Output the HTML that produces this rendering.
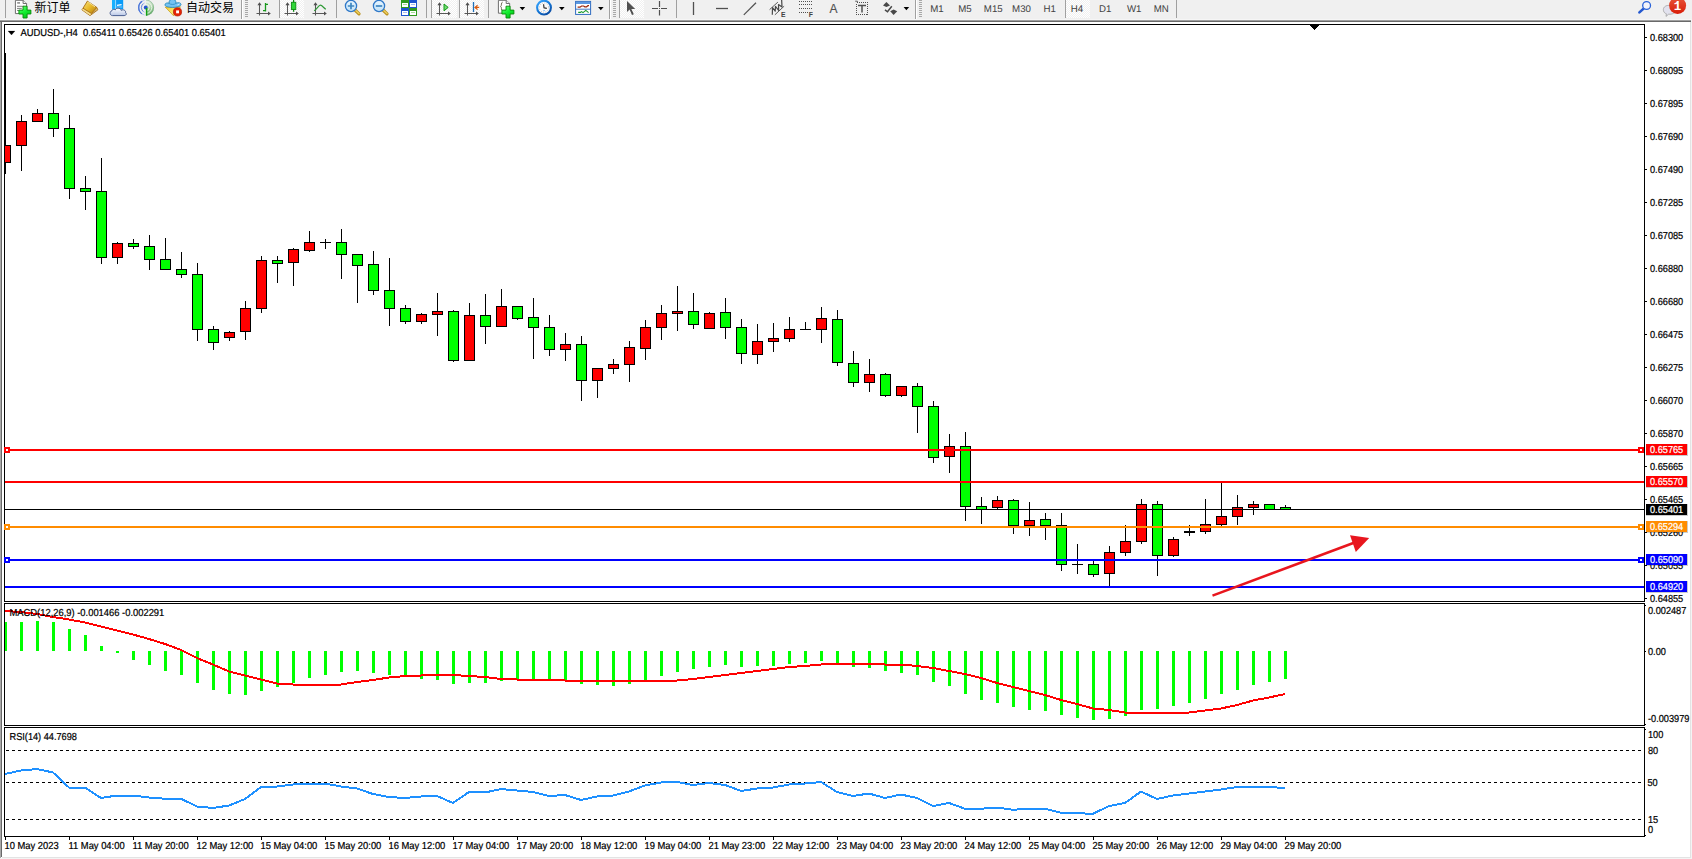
<!DOCTYPE html>
<html lang="zh-CN"><head><meta charset="utf-8"><title>AUDUSD-,H4</title>
<style>
html,body{margin:0;padding:0;background:#fff;overflow:hidden}
body{width:1692px;height:859px;position:relative}
svg{position:absolute;left:0;top:0;display:block}
</style></head><body>
<svg width="1692" height="859" viewBox="0 0 1692 859">
<g shape-rendering="crispEdges">
<rect x="0" y="0" width="1692" height="19" fill="#f0f0f0"/>
<rect x="0" y="19" width="1692" height="1" fill="#f6f6f6"/>
<rect x="0" y="20" width="1691" height="1" fill="#a0a0a0"/>
<rect x="0" y="21" width="1691" height="1" fill="#696969"/>
<rect x="0" y="22" width="1" height="836" fill="#a8a8a8"/>
<rect x="1" y="22" width="1" height="835" fill="#696969"/>
<rect x="1690" y="22" width="1" height="836" fill="#e3e3e3"/>
<rect x="1691" y="19" width="1" height="840" fill="#f4f4f4"/>
<rect x="2" y="857" width="1689" height="1" fill="#e3e3e3"/>
<rect x="0" y="858" width="1692" height="1" fill="#f4f4f4"/>
<rect x="4" y="24" width="1641" height="1" fill="#000"/>
<rect x="4" y="24" width="1" height="813" fill="#000"/>
<rect x="1644" y="24" width="1" height="813" fill="#000"/>
<rect x="4" y="601" width="1641" height="1" fill="#000"/>
<rect x="4" y="602" width="1641" height="1" fill="#fff"/>
<rect x="4" y="603" width="1641" height="1" fill="#000"/>
<rect x="4" y="725" width="1641" height="1" fill="#000"/>
<rect x="4" y="726" width="1641" height="1" fill="#fff"/>
<rect x="4" y="727" width="1641" height="1" fill="#000"/>
<rect x="4" y="836" width="1641" height="1" fill="#000"/>
<rect x="1310" y="25" width="9" height="1" fill="#000"/>
<rect x="1311" y="26" width="7" height="1" fill="#000"/>
<rect x="1312" y="27" width="5" height="1" fill="#000"/>
<rect x="1313" y="28" width="3" height="1" fill="#000"/>
<rect x="1314" y="29" width="1" height="1" fill="#000"/>
<rect x="1645" y="37" width="2" height="1" fill="#000"/>
<rect x="1645" y="70" width="2" height="1" fill="#000"/>
<rect x="1645" y="103" width="2" height="1" fill="#000"/>
<rect x="1645" y="136" width="2" height="1" fill="#000"/>
<rect x="1645" y="169" width="2" height="1" fill="#000"/>
<rect x="1645" y="202" width="2" height="1" fill="#000"/>
<rect x="1645" y="235" width="2" height="1" fill="#000"/>
<rect x="1645" y="268" width="2" height="1" fill="#000"/>
<rect x="1645" y="301" width="2" height="1" fill="#000"/>
<rect x="1645" y="334" width="2" height="1" fill="#000"/>
<rect x="1645" y="367" width="2" height="1" fill="#000"/>
<rect x="1645" y="400" width="2" height="1" fill="#000"/>
<rect x="1645" y="433" width="2" height="1" fill="#000"/>
<rect x="1645" y="466" width="2" height="1" fill="#000"/>
<rect x="1645" y="499" width="2" height="1" fill="#000"/>
<rect x="1645" y="532" width="2" height="1" fill="#000"/>
<rect x="1645" y="565" width="2" height="1" fill="#000"/>
<rect x="1645" y="598" width="2" height="1" fill="#000"/>
<rect x="1645" y="605" width="1" height="1" fill="#000"/>
<rect x="1645" y="651" width="1" height="1" fill="#000"/>
<rect x="1645" y="724" width="1" height="1" fill="#000"/>
<rect x="1645" y="729" width="1" height="1" fill="#000"/>
<rect x="1645" y="835" width="1" height="1" fill="#000"/>
<rect x="5" y="837" width="1" height="3" fill="#000"/>
<rect x="69" y="837" width="1" height="3" fill="#000"/>
<rect x="133" y="837" width="1" height="3" fill="#000"/>
<rect x="197" y="837" width="1" height="3" fill="#000"/>
<rect x="261" y="837" width="1" height="3" fill="#000"/>
<rect x="325" y="837" width="1" height="3" fill="#000"/>
<rect x="389" y="837" width="1" height="3" fill="#000"/>
<rect x="453" y="837" width="1" height="3" fill="#000"/>
<rect x="517" y="837" width="1" height="3" fill="#000"/>
<rect x="581" y="837" width="1" height="3" fill="#000"/>
<rect x="645" y="837" width="1" height="3" fill="#000"/>
<rect x="709" y="837" width="1" height="3" fill="#000"/>
<rect x="773" y="837" width="1" height="3" fill="#000"/>
<rect x="837" y="837" width="1" height="3" fill="#000"/>
<rect x="901" y="837" width="1" height="3" fill="#000"/>
<rect x="965" y="837" width="1" height="3" fill="#000"/>
<rect x="1029" y="837" width="1" height="3" fill="#000"/>
<rect x="1093" y="837" width="1" height="3" fill="#000"/>
<rect x="1157" y="837" width="1" height="3" fill="#000"/>
<rect x="1221" y="837" width="1" height="3" fill="#000"/>
<rect x="1285" y="837" width="1" height="3" fill="#000"/>
</g>
<clipPath id="cm"><rect x="5" y="25" width="1639" height="576"/></clipPath>
<g shape-rendering="crispEdges" clip-path="url(#cm)">
<rect x="5" y="53" width="1" height="121" fill="#000"/>
<rect x="0" y="145" width="11" height="18" fill="#000"/>
<rect x="1" y="146" width="9" height="16" fill="#f00"/>
<rect x="21" y="115" width="1" height="56" fill="#000"/>
<rect x="16" y="121" width="11" height="25" fill="#000"/>
<rect x="17" y="122" width="9" height="23" fill="#f00"/>
<rect x="37" y="109" width="1" height="13" fill="#000"/>
<rect x="32" y="113" width="11" height="9" fill="#000"/>
<rect x="33" y="114" width="9" height="7" fill="#f00"/>
<rect x="53" y="89" width="1" height="48" fill="#000"/>
<rect x="48" y="113" width="11" height="16" fill="#000"/>
<rect x="49" y="114" width="9" height="14" fill="#0f0"/>
<rect x="69" y="115" width="1" height="84" fill="#000"/>
<rect x="64" y="128" width="11" height="61" fill="#000"/>
<rect x="65" y="129" width="9" height="59" fill="#0f0"/>
<rect x="85" y="176" width="1" height="34" fill="#000"/>
<rect x="80" y="188" width="11" height="4" fill="#000"/>
<rect x="81" y="189" width="9" height="2" fill="#0f0"/>
<rect x="101" y="158" width="1" height="106" fill="#000"/>
<rect x="96" y="191" width="11" height="67" fill="#000"/>
<rect x="97" y="192" width="9" height="65" fill="#0f0"/>
<rect x="117" y="242" width="1" height="22" fill="#000"/>
<rect x="112" y="243" width="11" height="15" fill="#000"/>
<rect x="113" y="244" width="9" height="13" fill="#f00"/>
<rect x="133" y="239" width="1" height="10" fill="#000"/>
<rect x="128" y="243" width="11" height="4" fill="#000"/>
<rect x="129" y="244" width="9" height="2" fill="#0f0"/>
<rect x="149" y="235" width="1" height="35" fill="#000"/>
<rect x="144" y="246" width="11" height="14" fill="#000"/>
<rect x="145" y="247" width="9" height="12" fill="#0f0"/>
<rect x="165" y="238" width="1" height="32" fill="#000"/>
<rect x="160" y="259" width="11" height="11" fill="#000"/>
<rect x="161" y="260" width="9" height="9" fill="#0f0"/>
<rect x="181" y="252" width="1" height="26" fill="#000"/>
<rect x="176" y="269" width="11" height="6" fill="#000"/>
<rect x="177" y="270" width="9" height="4" fill="#0f0"/>
<rect x="197" y="263" width="1" height="78" fill="#000"/>
<rect x="192" y="274" width="11" height="56" fill="#000"/>
<rect x="193" y="275" width="9" height="54" fill="#0f0"/>
<rect x="213" y="326" width="1" height="24" fill="#000"/>
<rect x="208" y="329" width="11" height="14" fill="#000"/>
<rect x="209" y="330" width="9" height="12" fill="#0f0"/>
<rect x="229" y="331" width="1" height="10" fill="#000"/>
<rect x="224" y="332" width="11" height="6" fill="#000"/>
<rect x="225" y="333" width="9" height="4" fill="#f00"/>
<rect x="245" y="301" width="1" height="39" fill="#000"/>
<rect x="240" y="308" width="11" height="24" fill="#000"/>
<rect x="241" y="309" width="9" height="22" fill="#f00"/>
<rect x="261" y="256" width="1" height="57" fill="#000"/>
<rect x="256" y="260" width="11" height="49" fill="#000"/>
<rect x="257" y="261" width="9" height="47" fill="#f00"/>
<rect x="277" y="256" width="1" height="27" fill="#000"/>
<rect x="272" y="260" width="11" height="4" fill="#000"/>
<rect x="273" y="261" width="9" height="2" fill="#0f0"/>
<rect x="293" y="248" width="1" height="38" fill="#000"/>
<rect x="288" y="249" width="11" height="14" fill="#000"/>
<rect x="289" y="250" width="9" height="12" fill="#f00"/>
<rect x="309" y="231" width="1" height="21" fill="#000"/>
<rect x="304" y="242" width="11" height="9" fill="#000"/>
<rect x="305" y="243" width="9" height="7" fill="#f00"/>
<rect x="325" y="239" width="1" height="10" fill="#000"/>
<rect x="320" y="242" width="11" height="1" fill="#000"/>
<rect x="341" y="229" width="1" height="50" fill="#000"/>
<rect x="336" y="242" width="11" height="13" fill="#000"/>
<rect x="337" y="243" width="9" height="11" fill="#0f0"/>
<rect x="357" y="254" width="1" height="49" fill="#000"/>
<rect x="352" y="254" width="11" height="12" fill="#000"/>
<rect x="353" y="255" width="9" height="10" fill="#0f0"/>
<rect x="373" y="251" width="1" height="44" fill="#000"/>
<rect x="368" y="264" width="11" height="27" fill="#000"/>
<rect x="369" y="265" width="9" height="25" fill="#0f0"/>
<rect x="389" y="258" width="1" height="68" fill="#000"/>
<rect x="384" y="290" width="11" height="19" fill="#000"/>
<rect x="385" y="291" width="9" height="17" fill="#0f0"/>
<rect x="405" y="305" width="1" height="19" fill="#000"/>
<rect x="400" y="308" width="11" height="14" fill="#000"/>
<rect x="401" y="309" width="9" height="12" fill="#0f0"/>
<rect x="421" y="313" width="1" height="11" fill="#000"/>
<rect x="416" y="314" width="11" height="8" fill="#000"/>
<rect x="417" y="315" width="9" height="6" fill="#f00"/>
<rect x="437" y="293" width="1" height="43" fill="#000"/>
<rect x="432" y="311" width="11" height="4" fill="#000"/>
<rect x="433" y="312" width="9" height="2" fill="#f00"/>
<rect x="453" y="310" width="1" height="52" fill="#000"/>
<rect x="448" y="311" width="11" height="50" fill="#000"/>
<rect x="449" y="312" width="9" height="48" fill="#0f0"/>
<rect x="469" y="303" width="1" height="58" fill="#000"/>
<rect x="464" y="315" width="11" height="46" fill="#000"/>
<rect x="465" y="316" width="9" height="44" fill="#f00"/>
<rect x="485" y="294" width="1" height="50" fill="#000"/>
<rect x="480" y="315" width="11" height="12" fill="#000"/>
<rect x="481" y="316" width="9" height="10" fill="#0f0"/>
<rect x="501" y="289" width="1" height="38" fill="#000"/>
<rect x="496" y="306" width="11" height="21" fill="#000"/>
<rect x="497" y="307" width="9" height="19" fill="#f00"/>
<rect x="517" y="306" width="1" height="14" fill="#000"/>
<rect x="512" y="306" width="11" height="13" fill="#000"/>
<rect x="513" y="307" width="9" height="11" fill="#0f0"/>
<rect x="533" y="298" width="1" height="61" fill="#000"/>
<rect x="528" y="317" width="11" height="11" fill="#000"/>
<rect x="529" y="318" width="9" height="9" fill="#0f0"/>
<rect x="549" y="315" width="1" height="41" fill="#000"/>
<rect x="544" y="327" width="11" height="23" fill="#000"/>
<rect x="545" y="328" width="9" height="21" fill="#0f0"/>
<rect x="565" y="333" width="1" height="28" fill="#000"/>
<rect x="560" y="344" width="11" height="6" fill="#000"/>
<rect x="561" y="345" width="9" height="4" fill="#f00"/>
<rect x="581" y="336" width="1" height="65" fill="#000"/>
<rect x="576" y="344" width="11" height="37" fill="#000"/>
<rect x="577" y="345" width="9" height="35" fill="#0f0"/>
<rect x="597" y="368" width="1" height="30" fill="#000"/>
<rect x="592" y="368" width="11" height="13" fill="#000"/>
<rect x="593" y="369" width="9" height="11" fill="#f00"/>
<rect x="613" y="359" width="1" height="15" fill="#000"/>
<rect x="608" y="364" width="11" height="5" fill="#000"/>
<rect x="609" y="365" width="9" height="3" fill="#f00"/>
<rect x="629" y="341" width="1" height="41" fill="#000"/>
<rect x="624" y="347" width="11" height="18" fill="#000"/>
<rect x="625" y="348" width="9" height="16" fill="#f00"/>
<rect x="645" y="320" width="1" height="40" fill="#000"/>
<rect x="640" y="327" width="11" height="22" fill="#000"/>
<rect x="641" y="328" width="9" height="20" fill="#f00"/>
<rect x="661" y="305" width="1" height="35" fill="#000"/>
<rect x="656" y="313" width="11" height="15" fill="#000"/>
<rect x="657" y="314" width="9" height="13" fill="#f00"/>
<rect x="677" y="286" width="1" height="45" fill="#000"/>
<rect x="672" y="311" width="11" height="3" fill="#000"/>
<rect x="673" y="312" width="9" height="1" fill="#f00"/>
<rect x="693" y="293" width="1" height="36" fill="#000"/>
<rect x="688" y="311" width="11" height="14" fill="#000"/>
<rect x="689" y="312" width="9" height="12" fill="#0f0"/>
<rect x="709" y="312" width="1" height="17" fill="#000"/>
<rect x="704" y="313" width="11" height="16" fill="#000"/>
<rect x="705" y="314" width="9" height="14" fill="#f00"/>
<rect x="725" y="298" width="1" height="41" fill="#000"/>
<rect x="720" y="312" width="11" height="16" fill="#000"/>
<rect x="721" y="313" width="9" height="14" fill="#0f0"/>
<rect x="741" y="319" width="1" height="45" fill="#000"/>
<rect x="736" y="327" width="11" height="27" fill="#000"/>
<rect x="737" y="328" width="9" height="25" fill="#0f0"/>
<rect x="757" y="324" width="1" height="40" fill="#000"/>
<rect x="752" y="341" width="11" height="14" fill="#000"/>
<rect x="753" y="342" width="9" height="12" fill="#f00"/>
<rect x="773" y="323" width="1" height="29" fill="#000"/>
<rect x="768" y="338" width="11" height="4" fill="#000"/>
<rect x="769" y="339" width="9" height="2" fill="#f00"/>
<rect x="789" y="317" width="1" height="25" fill="#000"/>
<rect x="784" y="329" width="11" height="10" fill="#000"/>
<rect x="785" y="330" width="9" height="8" fill="#f00"/>
<rect x="805" y="322" width="1" height="8" fill="#000"/>
<rect x="800" y="329" width="11" height="1" fill="#000"/>
<rect x="821" y="307" width="1" height="36" fill="#000"/>
<rect x="816" y="318" width="11" height="12" fill="#000"/>
<rect x="817" y="319" width="9" height="10" fill="#f00"/>
<rect x="837" y="310" width="1" height="56" fill="#000"/>
<rect x="832" y="319" width="11" height="44" fill="#000"/>
<rect x="833" y="320" width="9" height="42" fill="#0f0"/>
<rect x="853" y="351" width="1" height="36" fill="#000"/>
<rect x="848" y="363" width="11" height="20" fill="#000"/>
<rect x="849" y="364" width="9" height="18" fill="#0f0"/>
<rect x="869" y="359" width="1" height="33" fill="#000"/>
<rect x="864" y="374" width="11" height="9" fill="#000"/>
<rect x="865" y="375" width="9" height="7" fill="#f00"/>
<rect x="885" y="373" width="1" height="24" fill="#000"/>
<rect x="880" y="374" width="11" height="22" fill="#000"/>
<rect x="881" y="375" width="9" height="20" fill="#0f0"/>
<rect x="901" y="386" width="1" height="11" fill="#000"/>
<rect x="896" y="386" width="11" height="10" fill="#000"/>
<rect x="897" y="387" width="9" height="8" fill="#f00"/>
<rect x="917" y="383" width="1" height="50" fill="#000"/>
<rect x="912" y="386" width="11" height="21" fill="#000"/>
<rect x="913" y="387" width="9" height="19" fill="#0f0"/>
<rect x="933" y="401" width="1" height="62" fill="#000"/>
<rect x="928" y="406" width="11" height="52" fill="#000"/>
<rect x="929" y="407" width="9" height="50" fill="#0f0"/>
<rect x="949" y="434" width="1" height="39" fill="#000"/>
<rect x="944" y="446" width="11" height="11" fill="#000"/>
<rect x="945" y="447" width="9" height="9" fill="#f00"/>
<rect x="965" y="432" width="1" height="89" fill="#000"/>
<rect x="960" y="446" width="11" height="61" fill="#000"/>
<rect x="961" y="447" width="9" height="59" fill="#0f0"/>
<rect x="981" y="497" width="1" height="27" fill="#000"/>
<rect x="976" y="506" width="11" height="4" fill="#000"/>
<rect x="977" y="507" width="9" height="2" fill="#0f0"/>
<rect x="997" y="496" width="1" height="13" fill="#000"/>
<rect x="992" y="500" width="11" height="8" fill="#000"/>
<rect x="993" y="501" width="9" height="6" fill="#f00"/>
<rect x="1013" y="499" width="1" height="35" fill="#000"/>
<rect x="1008" y="500" width="11" height="26" fill="#000"/>
<rect x="1009" y="501" width="9" height="24" fill="#0f0"/>
<rect x="1029" y="502" width="1" height="34" fill="#000"/>
<rect x="1024" y="520" width="11" height="6" fill="#000"/>
<rect x="1025" y="521" width="9" height="4" fill="#f00"/>
<rect x="1045" y="513" width="1" height="27" fill="#000"/>
<rect x="1040" y="519" width="11" height="7" fill="#000"/>
<rect x="1041" y="520" width="9" height="5" fill="#0f0"/>
<rect x="1061" y="513" width="1" height="58" fill="#000"/>
<rect x="1056" y="525" width="11" height="40" fill="#000"/>
<rect x="1057" y="526" width="9" height="38" fill="#0f0"/>
<rect x="1077" y="544" width="1" height="30" fill="#000"/>
<rect x="1072" y="564" width="11" height="1" fill="#000"/>
<rect x="1093" y="561" width="1" height="16" fill="#000"/>
<rect x="1088" y="564" width="11" height="11" fill="#000"/>
<rect x="1089" y="565" width="9" height="9" fill="#0f0"/>
<rect x="1109" y="546" width="1" height="40" fill="#000"/>
<rect x="1104" y="552" width="11" height="22" fill="#000"/>
<rect x="1105" y="553" width="9" height="20" fill="#f00"/>
<rect x="1125" y="525" width="1" height="31" fill="#000"/>
<rect x="1120" y="541" width="11" height="12" fill="#000"/>
<rect x="1121" y="542" width="9" height="10" fill="#f00"/>
<rect x="1141" y="499" width="1" height="45" fill="#000"/>
<rect x="1136" y="504" width="11" height="38" fill="#000"/>
<rect x="1137" y="505" width="9" height="36" fill="#f00"/>
<rect x="1157" y="501" width="1" height="75" fill="#000"/>
<rect x="1152" y="504" width="11" height="52" fill="#000"/>
<rect x="1153" y="505" width="9" height="50" fill="#0f0"/>
<rect x="1173" y="537" width="1" height="20" fill="#000"/>
<rect x="1168" y="539" width="11" height="17" fill="#000"/>
<rect x="1169" y="540" width="9" height="15" fill="#f00"/>
<rect x="1189" y="525" width="1" height="11" fill="#000"/>
<rect x="1184" y="531" width="11" height="2" fill="#000"/>
<rect x="1205" y="499" width="1" height="35" fill="#000"/>
<rect x="1200" y="524" width="11" height="8" fill="#000"/>
<rect x="1201" y="525" width="9" height="6" fill="#f00"/>
<rect x="1221" y="483" width="1" height="43" fill="#000"/>
<rect x="1216" y="516" width="11" height="9" fill="#000"/>
<rect x="1217" y="517" width="9" height="7" fill="#f00"/>
<rect x="1237" y="495" width="1" height="30" fill="#000"/>
<rect x="1232" y="507" width="11" height="10" fill="#000"/>
<rect x="1233" y="508" width="9" height="8" fill="#f00"/>
<rect x="1253" y="501" width="1" height="14" fill="#000"/>
<rect x="1248" y="504" width="11" height="4" fill="#000"/>
<rect x="1249" y="505" width="9" height="2" fill="#f00"/>
<rect x="1269" y="504" width="1" height="6" fill="#000"/>
<rect x="1264" y="504" width="11" height="6" fill="#000"/>
<rect x="1265" y="505" width="9" height="4" fill="#0f0"/>
<rect x="1285" y="505" width="1" height="5" fill="#000"/>
<rect x="1280" y="507" width="11" height="3" fill="#000"/>
<rect x="1281" y="508" width="9" height="1" fill="#0f0"/>
</g>
<g shape-rendering="crispEdges">
<rect x="5" y="509" width="1639" height="1" fill="#000"/>
<rect x="5" y="449" width="1639" height="2" fill="#f00"/>
<rect x="4" y="447" width="6" height="6" fill="#f00"/>
<rect x="6" y="449" width="2" height="2" fill="#fff"/>
<rect x="1638" y="447" width="6" height="6" fill="#f00"/>
<rect x="1640" y="449" width="2" height="2" fill="#fff"/>
<rect x="5" y="481" width="1639" height="2" fill="#f00"/>
<rect x="5" y="526" width="1639" height="2" fill="#ff8c00"/>
<rect x="4" y="524" width="6" height="6" fill="#ff8c00"/>
<rect x="6" y="526" width="2" height="2" fill="#fff"/>
<rect x="1638" y="524" width="6" height="6" fill="#ff8c00"/>
<rect x="1640" y="526" width="2" height="2" fill="#fff"/>
<rect x="5" y="559" width="1639" height="2" fill="#00f"/>
<rect x="4" y="557" width="6" height="6" fill="#00f"/>
<rect x="6" y="559" width="2" height="2" fill="#fff"/>
<rect x="1638" y="557" width="6" height="6" fill="#00f"/>
<rect x="1640" y="559" width="2" height="2" fill="#fff"/>
<rect x="5" y="586" width="1639" height="2" fill="#00f"/>
</g>
<g shape-rendering="crispEdges">
<rect x="5" y="622" width="2" height="29" fill="#0f0"/>
<rect x="20" y="622" width="3" height="29" fill="#0f0"/>
<rect x="36" y="621" width="3" height="30" fill="#0f0"/>
<rect x="52" y="622" width="3" height="29" fill="#0f0"/>
<rect x="68" y="629" width="3" height="22" fill="#0f0"/>
<rect x="84" y="635" width="3" height="16" fill="#0f0"/>
<rect x="100" y="646" width="3" height="5" fill="#0f0"/>
<rect x="116" y="651" width="3" height="2" fill="#0f0"/>
<rect x="132" y="651" width="3" height="9" fill="#0f0"/>
<rect x="148" y="651" width="3" height="14" fill="#0f0"/>
<rect x="164" y="651" width="3" height="20" fill="#0f0"/>
<rect x="180" y="651" width="3" height="24" fill="#0f0"/>
<rect x="196" y="651" width="3" height="32" fill="#0f0"/>
<rect x="212" y="651" width="3" height="39" fill="#0f0"/>
<rect x="228" y="651" width="3" height="43" fill="#0f0"/>
<rect x="244" y="651" width="3" height="44" fill="#0f0"/>
<rect x="260" y="651" width="3" height="40" fill="#0f0"/>
<rect x="276" y="651" width="3" height="36" fill="#0f0"/>
<rect x="292" y="651" width="3" height="32" fill="#0f0"/>
<rect x="308" y="651" width="3" height="27" fill="#0f0"/>
<rect x="324" y="651" width="3" height="24" fill="#0f0"/>
<rect x="340" y="651" width="3" height="21" fill="#0f0"/>
<rect x="356" y="651" width="3" height="20" fill="#0f0"/>
<rect x="372" y="651" width="3" height="22" fill="#0f0"/>
<rect x="388" y="651" width="3" height="24" fill="#0f0"/>
<rect x="404" y="651" width="3" height="26" fill="#0f0"/>
<rect x="420" y="651" width="3" height="28" fill="#0f0"/>
<rect x="436" y="651" width="3" height="29" fill="#0f0"/>
<rect x="452" y="651" width="3" height="33" fill="#0f0"/>
<rect x="468" y="651" width="3" height="32" fill="#0f0"/>
<rect x="484" y="651" width="3" height="32" fill="#0f0"/>
<rect x="500" y="651" width="3" height="30" fill="#0f0"/>
<rect x="516" y="651" width="3" height="28" fill="#0f0"/>
<rect x="532" y="651" width="3" height="29" fill="#0f0"/>
<rect x="548" y="651" width="3" height="29" fill="#0f0"/>
<rect x="564" y="651" width="3" height="29" fill="#0f0"/>
<rect x="580" y="651" width="3" height="33" fill="#0f0"/>
<rect x="596" y="651" width="3" height="34" fill="#0f0"/>
<rect x="612" y="651" width="3" height="35" fill="#0f0"/>
<rect x="628" y="651" width="3" height="33" fill="#0f0"/>
<rect x="644" y="651" width="3" height="30" fill="#0f0"/>
<rect x="660" y="651" width="3" height="25" fill="#0f0"/>
<rect x="676" y="651" width="3" height="21" fill="#0f0"/>
<rect x="692" y="651" width="3" height="18" fill="#0f0"/>
<rect x="708" y="651" width="3" height="16" fill="#0f0"/>
<rect x="724" y="651" width="3" height="14" fill="#0f0"/>
<rect x="740" y="651" width="3" height="16" fill="#0f0"/>
<rect x="756" y="651" width="3" height="15" fill="#0f0"/>
<rect x="772" y="651" width="3" height="15" fill="#0f0"/>
<rect x="788" y="651" width="3" height="13" fill="#0f0"/>
<rect x="804" y="651" width="3" height="12" fill="#0f0"/>
<rect x="820" y="651" width="3" height="10" fill="#0f0"/>
<rect x="836" y="651" width="3" height="12" fill="#0f0"/>
<rect x="852" y="651" width="3" height="16" fill="#0f0"/>
<rect x="868" y="651" width="3" height="17" fill="#0f0"/>
<rect x="884" y="651" width="3" height="20" fill="#0f0"/>
<rect x="900" y="651" width="3" height="22" fill="#0f0"/>
<rect x="916" y="651" width="3" height="24" fill="#0f0"/>
<rect x="932" y="651" width="3" height="31" fill="#0f0"/>
<rect x="948" y="651" width="3" height="35" fill="#0f0"/>
<rect x="964" y="651" width="3" height="43" fill="#0f0"/>
<rect x="980" y="651" width="3" height="49" fill="#0f0"/>
<rect x="996" y="651" width="3" height="52" fill="#0f0"/>
<rect x="1012" y="651" width="3" height="56" fill="#0f0"/>
<rect x="1028" y="651" width="3" height="59" fill="#0f0"/>
<rect x="1044" y="651" width="3" height="60" fill="#0f0"/>
<rect x="1060" y="651" width="3" height="64" fill="#0f0"/>
<rect x="1076" y="651" width="3" height="67" fill="#0f0"/>
<rect x="1092" y="651" width="3" height="69" fill="#0f0"/>
<rect x="1108" y="651" width="3" height="68" fill="#0f0"/>
<rect x="1124" y="651" width="3" height="65" fill="#0f0"/>
<rect x="1140" y="651" width="3" height="59" fill="#0f0"/>
<rect x="1156" y="651" width="3" height="58" fill="#0f0"/>
<rect x="1172" y="651" width="3" height="55" fill="#0f0"/>
<rect x="1188" y="651" width="3" height="52" fill="#0f0"/>
<rect x="1204" y="651" width="3" height="48" fill="#0f0"/>
<rect x="1220" y="651" width="3" height="43" fill="#0f0"/>
<rect x="1236" y="651" width="3" height="39" fill="#0f0"/>
<rect x="1252" y="651" width="3" height="34" fill="#0f0"/>
<rect x="1268" y="651" width="3" height="31" fill="#0f0"/>
<rect x="1284" y="651" width="3" height="28" fill="#0f0"/>
<polyline points="5,611 21,612 37,614 53,617 69,619.5 85,622.5 101,626.5 117,630.5 133,634.5 149,639 165,644 181,650 197,658 213,664.5 229,671.5 245,675.5 261,679.5 277,683.5 293,684.5 309,684.5 325,684.5 341,684.5 357,682 373,680 389,677.5 405,676 421,675.5 437,675 453,675 469,676 485,677 501,679 517,679.5 533,680 549,680 565,680.5 581,681 597,681 613,681 629,681 645,681 661,681 677,680.5 693,679 709,677 725,675 741,673 757,671 773,669 789,667 805,666 821,664.5 837,664 853,664 869,664 885,664.5 901,664.5 917,666 933,668 949,671 965,674 981,678 997,683 1013,687 1029,691 1045,695 1061,700 1077,704 1093,708.5 1109,710 1125,712.5 1141,712.5 1157,712.5 1173,712.5 1189,712.5 1205,710.5 1221,708.5 1237,705 1253,700.5 1269,697.5 1285,694" fill="none" stroke="#f00" stroke-width="2"/>
<line x1="6" y1="750.5" x2="1643" y2="750.5" stroke="#000" stroke-width="1" stroke-dasharray="3,3"/>
<line x1="6" y1="782.5" x2="1643" y2="782.5" stroke="#000" stroke-width="1" stroke-dasharray="3,3"/>
<line x1="6" y1="819.5" x2="1643" y2="819.5" stroke="#000" stroke-width="1" stroke-dasharray="3,3"/>
<polyline points="5,774 21,770.5 37,769 53,772.5 69,787.5 85,787.5 101,798 117,795.5 133,795.5 149,797.5 165,798.75 181,798.75 197,806.5 213,808 229,805.5 245,799 261,787 277,786.5 293,784.5 309,783.5 325,783.5 341,786.5 357,788.5 373,794 389,797 405,798 421,796.5 437,796 453,803 469,792 485,792.5 501,789 517,790.5 533,792 549,796 565,795 581,800 597,796.5 613,795.5 629,791.5 645,785.5 661,782.5 677,782 693,785 709,783 725,785 741,791 757,788.5 773,787.5 789,784.5 805,783.5 821,782 837,792 853,796 869,793.5 885,798 901,794.5 917,798 933,806 949,803 965,808.75 981,808.75 997,807.5 1013,809.75 1029,808.75 1045,808.75 1061,812.75 1077,813.25 1093,813.75 1109,806 1125,803 1141,791.5 1157,799 1173,795.5 1189,793.5 1205,791.5 1221,789.5 1237,787 1253,786.5 1269,787 1285,788" fill="none" stroke="#1e90ff" stroke-width="2"/>
</g>
<g><line x1="1212.5" y1="595.6" x2="1354" y2="542.8" stroke="#e8161e" stroke-width="2.6"/><polygon points="1369.2,537.9 1350,535.3 1355.8,552" fill="#e8161e"/></g>
<g font-family="'Liberation Sans',sans-serif" font-size="9.4px" fill="#000" stroke="#000" stroke-width="0.2" paint-order="stroke" text-rendering="geometricPrecision">
<polygon points="8,31 15,31 11.5,35" fill="#000"/>
<text transform="translate(20.5 36) scale(1 1.076)" xml:space="preserve">AUDUSD-,H4&#160; 0.65411 0.65426 0.65401 0.65401</text>
<text transform="translate(9.5 616) scale(1 1.076)">MACD(12,26,9) -0.001466 -0.002291</text>
<text transform="translate(9.5 740) scale(1 1.1)" font-size="9.2px">RSI(14) 44.7698</text>
<text transform="translate(1650 41) scale(1 1.1)" font-size="9.2px">0.68300</text>
<text transform="translate(1650 74) scale(1 1.1)" font-size="9.2px">0.68095</text>
<text transform="translate(1650 107) scale(1 1.1)" font-size="9.2px">0.67895</text>
<text transform="translate(1650 140) scale(1 1.1)" font-size="9.2px">0.67690</text>
<text transform="translate(1650 173) scale(1 1.1)" font-size="9.2px">0.67490</text>
<text transform="translate(1650 206) scale(1 1.1)" font-size="9.2px">0.67285</text>
<text transform="translate(1650 239) scale(1 1.1)" font-size="9.2px">0.67085</text>
<text transform="translate(1650 272) scale(1 1.1)" font-size="9.2px">0.66880</text>
<text transform="translate(1650 305) scale(1 1.1)" font-size="9.2px">0.66680</text>
<text transform="translate(1650 338) scale(1 1.1)" font-size="9.2px">0.66475</text>
<text transform="translate(1650 371) scale(1 1.1)" font-size="9.2px">0.66275</text>
<text transform="translate(1650 404) scale(1 1.1)" font-size="9.2px">0.66070</text>
<text transform="translate(1650 437) scale(1 1.1)" font-size="9.2px">0.65870</text>
<text transform="translate(1650 470) scale(1 1.1)" font-size="9.2px">0.65665</text>
<text transform="translate(1650 503) scale(1 1.1)" font-size="9.2px">0.65465</text>
<text transform="translate(1650 536) scale(1 1.1)" font-size="9.2px">0.65260</text>
<text transform="translate(1650 569) scale(1 1.1)" font-size="9.2px">0.65055</text>
<text transform="translate(1650 602) scale(1 1.1)" font-size="9.2px">0.64855</text>
<text transform="translate(1648 614) scale(1 1.1)" font-size="9.2px">0.002487</text>
<text transform="translate(1648 655) scale(1 1.1)" font-size="9.2px">0.00</text>
<text transform="translate(1648 722) scale(1 1.1)" font-size="9.2px">-0.003979</text>
<text transform="translate(1648 738) scale(1 1.1)" font-size="9.2px">100</text>
<text transform="translate(1648 754) scale(1 1.1)" font-size="9.2px">80</text>
<text transform="translate(1647.5 786) scale(1 1.1)" font-size="9.2px">50</text>
<text transform="translate(1648 823) scale(1 1.1)" font-size="9.2px">15</text>
<text transform="translate(1648 833) scale(1 1.1)" font-size="9.2px">0</text>
<text transform="translate(4.5 849) scale(1 1.076)">10 May 2023</text>
<text transform="translate(68.5 849) scale(1 1.076)">11 May 04:00</text>
<text transform="translate(132.5 849) scale(1 1.076)">11 May 20:00</text>
<text transform="translate(196.5 849) scale(1 1.076)">12 May 12:00</text>
<text transform="translate(260.5 849) scale(1 1.076)">15 May 04:00</text>
<text transform="translate(324.5 849) scale(1 1.076)">15 May 20:00</text>
<text transform="translate(388.5 849) scale(1 1.076)">16 May 12:00</text>
<text transform="translate(452.5 849) scale(1 1.076)">17 May 04:00</text>
<text transform="translate(516.5 849) scale(1 1.076)">17 May 20:00</text>
<text transform="translate(580.5 849) scale(1 1.076)">18 May 12:00</text>
<text transform="translate(644.5 849) scale(1 1.076)">19 May 04:00</text>
<text transform="translate(708.5 849) scale(1 1.076)">21 May 23:00</text>
<text transform="translate(772.5 849) scale(1 1.076)">22 May 12:00</text>
<text transform="translate(836.5 849) scale(1 1.076)">23 May 04:00</text>
<text transform="translate(900.5 849) scale(1 1.076)">23 May 20:00</text>
<text transform="translate(964.5 849) scale(1 1.076)">24 May 12:00</text>
<text transform="translate(1028.5 849) scale(1 1.076)">25 May 04:00</text>
<text transform="translate(1092.5 849) scale(1 1.076)">25 May 20:00</text>
<text transform="translate(1156.5 849) scale(1 1.076)">26 May 12:00</text>
<text transform="translate(1220.5 849) scale(1 1.076)">29 May 04:00</text>
<text transform="translate(1284.5 849) scale(1 1.076)">29 May 20:00</text>
<rect x="1646" y="444" width="41" height="11" fill="#f00" shape-rendering="crispEdges"/>
<text transform="translate(1650 453) scale(1 1.1)" fill="#fff" stroke="#fff" font-size="9.2px">0.65765</text>
<rect x="1646" y="476" width="41" height="11" fill="#f00" shape-rendering="crispEdges"/>
<text transform="translate(1650 485) scale(1 1.1)" fill="#fff" stroke="#fff" font-size="9.2px">0.65570</text>
<rect x="1646" y="504" width="41" height="11" fill="#000" shape-rendering="crispEdges"/>
<text transform="translate(1650 513) scale(1 1.1)" fill="#fff" stroke="#fff" font-size="9.2px">0.65401</text>
<rect x="1646" y="521" width="41" height="11" fill="#ff8c00" shape-rendering="crispEdges"/>
<text transform="translate(1650 530) scale(1 1.1)" fill="#fff" stroke="#fff" font-size="9.2px">0.65294</text>
<rect x="1646" y="554" width="41" height="11" fill="#00f" shape-rendering="crispEdges"/>
<text transform="translate(1650 563) scale(1 1.1)" fill="#fff" stroke="#fff" font-size="9.2px">0.65090</text>
<rect x="1646" y="581" width="41" height="11" fill="#00f" shape-rendering="crispEdges"/>
<text transform="translate(1650 590) scale(1 1.1)" fill="#fff" stroke="#fff" font-size="9.2px">0.64920</text>
</g>
<defs>
<pattern id="chk" width="2" height="2" patternUnits="userSpaceOnUse"><rect width="2" height="2" fill="#f0f0f0"/><rect width="1" height="1" fill="#fff"/><rect x="1" y="1" width="1" height="1" fill="#fff"/></pattern>
<linearGradient id="gplus" x1="0" y1="0" x2="0.6" y2="1"><stop offset="0" stop-color="#7cff8c"/><stop offset="0.55" stop-color="#12f030"/><stop offset="1" stop-color="#04c41c"/></linearGradient>
<linearGradient id="ggold" x1="0" y1="0" x2="1" y2="1"><stop offset="0" stop-color="#f7e27a"/><stop offset="0.5" stop-color="#e8b828"/><stop offset="1" stop-color="#b07a10"/></linearGradient>
<linearGradient id="gblue" x1="0" y1="0" x2="0" y2="1"><stop offset="0" stop-color="#6ab8f7"/><stop offset="1" stop-color="#1565c8"/></linearGradient>
<linearGradient id="gcloud" x1="0" y1="0" x2="0" y2="1"><stop offset="0" stop-color="#ffffff"/><stop offset="1" stop-color="#b9c7e6"/></linearGradient>
<linearGradient id="gred" x1="0" y1="0" x2="0" y2="1"><stop offset="0" stop-color="#e8573a"/><stop offset="1" stop-color="#d81c08"/></linearGradient>
<linearGradient id="glens" x1="0" y1="0" x2="0" y2="1"><stop offset="0" stop-color="#e8f6ff"/><stop offset="1" stop-color="#bfe0f7"/></linearGradient>
<linearGradient id="gsig" x1="146" y1="0" x2="152" y2="15" gradientUnits="userSpaceOnUse"><stop offset="0" stop-color="#e6efe8"/><stop offset="0.45" stop-color="#bcdcb8"/><stop offset="1" stop-color="#58a85a"/></linearGradient>
<linearGradient id="gface" x1="0" y1="0" x2="1" y2="1"><stop offset="0" stop-color="#f2c82e"/><stop offset="0.6" stop-color="#faea78"/><stop offset="1" stop-color="#f0d040"/></linearGradient>
<linearGradient id="gclock" x1="0.1" y1="0" x2="0.8" y2="1"><stop offset="0" stop-color="#3aa6ff"/><stop offset="0.5" stop-color="#1478d8"/><stop offset="1" stop-color="#0a4aa0"/></linearGradient>
<clipPath id="tbclip"><rect x="0" y="0" width="1692" height="19"/></clipPath>
<g id="axes" fill="none" stroke="#585858" stroke-width="1.05">
  <path d="M0.5 3V15.5M-2.5 13.5H9.5"/>
  <path d="M-1.6 5.2L0.5 2.2L2.6 5.2Z M9 11.6L11.8 13.5L9 15.4Z" fill="#505050" stroke="none"/>
</g>
<path id="dd" d="M0 7H5.6L2.8 10.2Z" fill="#000"/>
<g id="grip" fill="#a8a8a8" shape-rendering="crispEdges">
  <rect x="0" y="0" width="3" height="1"/><rect x="0" y="2" width="3" height="1"/><rect x="0" y="4" width="3" height="1"/><rect x="0" y="6" width="3" height="1"/><rect x="0" y="8" width="3" height="1"/><rect x="0" y="10" width="3" height="1"/><rect x="0" y="12" width="3" height="1"/><rect x="0" y="14" width="3" height="1"/><rect x="0" y="16" width="3" height="1"/>
</g>
</defs>
<g clip-path="url(#tbclip)">
<!-- separators / selected button backgrounds -->
<g shape-rendering="crispEdges">
  <rect x="279" y="0" width="25" height="18" fill="url(#chk)"/>
  <rect x="431" y="0" width="26" height="18" fill="url(#chk)"/>
  <rect x="459" y="0" width="25" height="18" fill="url(#chk)"/>
  <rect x="620" y="0" width="24" height="18" fill="url(#chk)"/>
  <rect x="1066" y="0" width="24" height="18" fill="url(#chk)"/>
  <g fill="#a0a0a0">
    <rect x="5" y="0" width="1" height="18"/>
    <rect x="241" y="0" width="1" height="20"/>
    <rect x="279" y="0" width="1" height="18"/>
    <rect x="336" y="0" width="1" height="18"/>
    <rect x="426" y="0" width="1" height="18"/>
    <rect x="431" y="0" width="1" height="18"/>
    <rect x="459" y="0" width="1" height="18"/>
    <rect x="488" y="0" width="1" height="18"/>
    <rect x="609" y="0" width="1" height="20"/>
    <rect x="619" y="0" width="1" height="18"/>
    <rect x="676" y="0" width="1" height="18"/>
    <rect x="915" y="0" width="1" height="20"/>
    <rect x="1065" y="0" width="1" height="18"/>
    <rect x="1176" y="0" width="1" height="18"/>
  </g>
  <g fill="#ffffff">
    <rect x="242" y="0" width="1" height="20"/>
    <rect x="610" y="0" width="1" height="20"/>
    <rect x="916" y="0" width="1" height="20"/>
  </g>
</g>
<use href="#grip" x="245" y="0"/><use href="#grip" x="613" y="0"/><use href="#grip" x="919" y="0"/>

<!-- new order -->
<g>
  <path d="M15.4 0.3H23.1L26.6 3.5V13.6H15.4Z" fill="#ffffff" stroke="#6e6e6e" stroke-width="1"/>
  <path d="M23.1 0.3V3.5H26.6" fill="#f4f4f4" stroke="#6e6e6e" stroke-width="1"/>
  <rect x="17.2" y="2.1" width="2.8" height="1.6" fill="#8c8c8c"/>
  <path d="M17 6.3H23.6M17 8.4H21.8M17 10.4H19.4" stroke="#808080" stroke-width="1"/>
  <path d="M23 6.2H27.1V10.1H30.9V14H27.1V18H23V14H18.9V10.1H23Z" fill="url(#gplus)" stroke="#078a07" stroke-width="0.9" stroke-linejoin="round"/>
</g>
<text x="34.4" y="12.2" font-family="'Liberation Sans','Noto Sans CJK SC',sans-serif" font-size="12px" fill="#000">新订单</text>

<!-- gold book -->
<g stroke-linejoin="round">
  <path d="M83 8.2L81.9 9.8L90 15.6L97.9 9.8L96.7 7.4Z" fill="#e9d79a" stroke="#a86c12" stroke-width="0.9"/>
  <path d="M91.3 14.4L97.3 9.2M91 13.2L96.8 8.2" fill="none" stroke="#b88a30" stroke-width="0.6"/>
  <path d="M83 8.4L82.2 9.8L90 15.3L91.2 13.4Z" fill="#f3dc8c"/>
  <path d="M87.4 1.1L96.7 7.4L91.5 13.5L83 8.2Z" fill="url(#ggold)" stroke="#a86c12" stroke-width="0.9"/>
  <path d="M87.8 2.6L88.6 2.2L95 6.8" fill="none" stroke="#fff6b8" stroke-width="0.8"/>
</g>

<!-- server + cloud -->
<g>
  <path d="M112 -1H123.2V9.4H112Z" fill="#0a9cf8"/>
  <path d="M112 -1H115.6V9.4H112Z" fill="#19b0ff"/>
  <path d="M115.6 -1V9.4" stroke="#d8f2ff" stroke-width="0.7"/>
  <path d="M117 5.4L121.6 4.6" stroke="#ffffff" stroke-width="1.1"/>
  <path d="M116.4 7H122.4" stroke="#aee0ff" stroke-width="0.7"/>
  <path d="M112.6 15.6C109.6 15.6 109.2 11.6 112 10.6C112.4 9.2 114.4 9 115.2 10C115.8 7.4 120.6 7.6 121.2 10.4C123.2 9 126 10.4 125.6 12.6C127 13.6 126.2 15.6 124.2 15.6Z" fill="url(#gcloud)" stroke="#4a5f92" stroke-width="1"/>
</g>

<!-- signal -->
<g fill="none">
  <path d="M146 -0.4A8 8 0 0 1 146 15.6Z" fill="url(#gsig)"/>
  <path d="M146 1.8A5.8 5.8 0 0 1 146 13.4" stroke="#eef6ee" stroke-width="0.9"/><path d="M146 4.4A3.2 3.2 0 0 1 146 10.8" stroke="#eef6ee" stroke-width="0.9"/>
  <path d="M146 0A7.6 7.6 0 0 1 146 15.2" stroke="#6aa07a" stroke-width="0.8" opacity="0.6"/>
  <path d="M144.6 15A7.6 7.6 0 0 1 144.6 0.2" stroke="#3a68d4" stroke-width="1.1" stroke-dasharray="11 30" stroke-dashoffset="-6.5"/>
  <path d="M144.6 15A7.6 7.6 0 0 1 144.6 0.2" stroke="#b6c8ee" stroke-width="1"/>
  <path d="M142 13.9A7.6 7.6 0 0 1 142 1.3" stroke="#4a74d8" stroke-width="1.1"/>
  <path d="M144.8 12.4A5 5 0 0 1 144.8 2.8" stroke="#b8c8ee" stroke-width="1"/>
  <path d="M143.2 11.4A5 5 0 0 1 143.2 3.8" stroke="#6a8cdc" stroke-width="1"/>
  <circle cx="145.7" cy="7.5" r="1.9" fill="#2456d0"/>
  <path d="M146.6 8V15.7" stroke="#12a012" stroke-width="1.5"/>
</g>

<!-- auto trading -->
<g stroke-linejoin="round">
  <path d="M165.2 7L180.5 6.8L173.6 15.8Z" fill="url(#gface)" stroke="#c8a020" stroke-width="0.8"/>
  <path d="M165 4.8C165 3 167.6 2.6 169 3.2C169 0.6 170.4 -1 172.5 -1C174.6 -1 176 0.6 176 3.2C177.6 2.4 181 2.6 181 4.4C181 6.4 176.6 7.4 172.6 7.4C168.6 7.4 165 6.6 165 4.8Z" fill="#74c2f2" stroke="#2288bc" stroke-width="0.9"/>
  <path d="M169 3.4C170.6 4.8 174.4 4.8 176 3.4" fill="none" stroke="#2288bc" stroke-width="0.7"/>
  <path d="M177.4 5L179.6 3.8" stroke="#dff2ff" stroke-width="0.9"/>
  <circle cx="177.5" cy="11.9" r="4.1" fill="#e42404" stroke="#b41c06" stroke-width="0.7"/>
  <rect x="176.1" y="10.4" width="2.9" height="2.9" fill="#fff"/>
</g>
<text x="186" y="12.2" font-family="'Liberation Sans','Noto Sans CJK SC',sans-serif" font-size="12px" fill="#000">自动交易</text>

<!-- bar chart -->
<use href="#axes" x="259" y="0"/>
<path d="M265.5 3V11.6M265.5 4.4H268M263 10.6H265.5" fill="none" stroke="#18981c" stroke-width="1.3"/>
<!-- candle chart -->
<use href="#axes" x="287" y="0"/>
<path d="M293.6 -1V11.8" stroke="#108a14" stroke-width="1.3"/>
<rect x="291.4" y="2.3" width="4.4" height="7.2" fill="#30d838" stroke="#108a14" stroke-width="0.9"/>
<!-- line chart -->
<use href="#axes" x="315" y="0"/>
<path d="M314.2 10.8C317 9 318.6 5.2 320.4 5.2C322 5.2 324.4 8.6 325.8 9.2" fill="none" stroke="#2e9a36" stroke-width="1.2"/>

<!-- zoom in -->
<g>
  <path d="M355 10L359 13.8" stroke="#b8901c" stroke-width="3.2" stroke-linecap="round"/>
  <path d="M355.4 10.2L359 13.6" stroke="#f0d060" stroke-width="1.4" stroke-linecap="round"/>
  <circle cx="351" cy="6" r="5.6" fill="url(#glens)" stroke="#2f78c8" stroke-width="1.3"/>
  <path d="M347.8 6H354.2M351 2.8V9.2" stroke="#3f86c0" stroke-width="1.7"/>
</g>
<!-- zoom out -->
<g>
  <path d="M383 10L387 13.8" stroke="#b8901c" stroke-width="3.2" stroke-linecap="round"/>
  <path d="M383.4 10.2L387 13.6" stroke="#f0d060" stroke-width="1.4" stroke-linecap="round"/>
  <circle cx="379" cy="6" r="5.6" fill="url(#glens)" stroke="#2f78c8" stroke-width="1.3"/>
  <path d="M375.8 6H382.2" stroke="#3f86c0" stroke-width="1.7"/>
</g>
<!-- tile windows -->
<g shape-rendering="crispEdges">
  <rect x="401" y="-1" width="8" height="8.5" fill="#2f9a1e"/><rect x="409" y="-1" width="8" height="8.5" fill="#1f54d0"/>
  <rect x="401" y="7.5" width="8" height="8" fill="#1f54d0"/><rect x="409" y="7.5" width="8" height="8" fill="#2f9a1e"/>
  <rect x="402" y="3" width="6" height="4" fill="#fff"/><rect x="410" y="3" width="6" height="4" fill="#fff"/>
  <rect x="402" y="11" width="6" height="4" fill="#fff"/><rect x="410" y="11" width="6" height="4" fill="#fff"/>
  <rect x="403" y="4" width="4" height="1" fill="#a8dc98"/><rect x="411" y="4" width="4" height="1" fill="#a8bcf0"/>
  <rect x="403" y="12" width="4" height="1" fill="#a8bcf0"/><rect x="411" y="12" width="4" height="1" fill="#a8dc98"/>
</g>

<!-- autoscroll -->
<use href="#axes" x="439" y="0"/>
<path d="M444 4L448.2 7.4L444 10.8Z" fill="#6fdc6f" stroke="#149a18" stroke-width="1"/>
<!-- chart shift -->
<use href="#axes" x="467" y="0"/>
<path d="M473.5 2V12" stroke="#1f6fb8" stroke-width="1.3"/>
<path d="M475 7.4H479.2M477.6 5.2L475 7.4L477.6 9.6" fill="none" stroke="#d85a10" stroke-width="1.2"/>

<!-- indicators: doc + plus -->
<g>
  <path d="M498.4 0.3H506.2L509.7 3.5V13.2H498.4Z" fill="#ffffff" stroke="#6e6e6e" stroke-width="1"/>
  <path d="M506.2 0.3V3.5H509.7" fill="#f4f4f4" stroke="#6e6e6e" stroke-width="1"/>
  <path d="M502.6 2.2C500.8 2.2 502 6 500.6 6.4C502 6.8 500.8 10.6 502.6 10.6" fill="none" stroke="#6a6a50" stroke-width="1"/>
  <path d="M506 6.2H510.1V10.1H513.9V14H510.1V18H506V14H501.9V10.1H506Z" fill="url(#gplus)" stroke="#078a07" stroke-width="0.9" stroke-linejoin="round"/>
</g>
<use href="#dd" x="519.6" y="0"/>
<!-- clock -->
<g>
  <circle cx="544" cy="7.6" r="6.9" fill="#fafafa" stroke="url(#gclock)" stroke-width="2.1"/>
  <circle cx="544" cy="7.6" r="4.6" fill="none" stroke="#9a9a9a" stroke-width="0.9" stroke-dasharray="0.6 1.81"/>
  <path d="M543.6 4.2L544 7.8L546.8 8.4" fill="none" stroke="#202020" stroke-width="1.1"/>
  <path d="M543.2 10.6H545" stroke="#6ab4ff" stroke-width="0.8"/>
</g>
<use href="#dd" x="559" y="0"/>
<!-- templates -->
<g>
  <rect x="575.6" y="1.4" width="15" height="13" fill="#fff" stroke="#2f6cc0" stroke-width="1"/>
  <rect x="576" y="1.8" width="14.2" height="2.2" fill="#5a98e0"/>
  <path d="M575.6 9.2H590.6" stroke="#2f6cc0" stroke-width="0.9"/>
  <path d="M577.6 7.2H580L581.6 6H583.6L584.8 6.8H586.6L588 5.6H589" fill="none" stroke="#9a2408" stroke-width="1.2"/>
  <path d="M578.2 12.4H580.4L581.6 11.6L583 12.6L585.8 10.4L588.6 12.6" fill="none" stroke="#189828" stroke-width="1.1"/>
</g>
<use href="#dd" x="598" y="0"/>

<!-- cursor -->
<path d="M627 1V12L629.6 9.6L632 15L633.8 14.2L631.4 9H635.2Z" fill="#505050"/>
<!-- crosshair -->
<path d="M659.5 1V7M659.5 10V15.6M652 8.5H658M661 8.5H667" stroke="#505050" stroke-width="1.2"/>
<rect x="659" y="8" width="1" height="1" fill="#505050"/>
<!-- vertical / horizontal / trend line -->
<path d="M693.5 2V15" stroke="#505050" stroke-width="1.3"/>
<path d="M716 8.5H728" stroke="#505050" stroke-width="1.3"/>
<path d="M743.8 14.9L756 2.8" stroke="#505050" stroke-width="1.2"/>
<!-- channel -->
<g stroke="#484848" fill="none">
  <path d="M769.6 9.6L777.9 2.1M774.9 14.8L784.1 6.2" stroke-width="0.9"/>
  <path d="M772.3 14.7L772.5 7.7L775.2 11.2L775.5 6.4L778.7 10.5L778.5 4.5L782 6.9L781.6 -1" stroke-width="1.2" stroke-linejoin="round"/>
</g>
<text x="781" y="16.9" font-family="'Liberation Sans',sans-serif" font-size="6.8px" font-weight="bold" fill="#404040" opacity="0.99">E</text>
<!-- fibo -->
<g stroke="#505050" stroke-width="1" stroke-dasharray="1,1" shape-rendering="crispEdges">
  <path d="M799 1.5H812M799 4.5H812M799 8.5H812M799 12.5H808"/>
</g>
<text x="808.8" y="16.9" font-family="'Liberation Sans',sans-serif" font-size="6.8px" font-weight="bold" fill="#404040" opacity="0.99">F</text>
<!-- A -->
<text x="829.4" y="12.8" font-family="'Liberation Sans',sans-serif" font-size="12px" fill="#505050" stroke="#505050" stroke-width="0.15" opacity="0.99">A</text>
<!-- text label -->
<rect x="856.5" y="2.5" width="11" height="12" fill="none" stroke="#505050" stroke-width="1" stroke-dasharray="1,1" shape-rendering="crispEdges"/>
<path d="M855.2 1.2H857.4V2.6" fill="none" stroke="#505050" stroke-width="0.9"/>
<path d="M858 5.6H866M862 5.6V12.6" stroke="#505050" stroke-width="1.5" fill="none"/>
<!-- arrows -->
<g fill="#484848">
  <path d="M883 5.4L886.4 1.9L890 5.4L886.4 7Z"/>
  <path d="M890.2 11.2L893.6 9.6L897.2 11.2L893.6 15.1Z"/>
  <path d="M885 9.8L887.5 11.8L891.8 6.2" fill="none" stroke="#484848" stroke-width="1.5"/>
</g>
<use href="#dd" x="903.6" y="0"/>

<!-- timeframes -->
<g font-family="'Liberation Sans',sans-serif" font-size="9.7px" fill="#404040" text-anchor="middle" text-rendering="geometricPrecision" opacity="0.99">
  <text x="937" y="12">M1</text><text x="965" y="12">M5</text><text x="993.3" y="12">M15</text><text x="1021.5" y="12">M30</text>
  <text x="1049.6" y="12">H1</text><text x="1077" y="12">H4</text><text x="1105.3" y="12">D1</text><text x="1134.2" y="12">W1</text><text x="1161.2" y="12">MN</text>
</g>

<!-- search -->
<g>
  <path d="M1643.6 8.6L1639.4 12.4" stroke="#2458d0" stroke-width="2.6" stroke-linecap="round"/>
  <circle cx="1646.6" cy="5.5" r="3.9" fill="#f4f4fa" stroke="#2a62d8" stroke-width="1.3"/>
</g>
<!-- chat + badge -->
<g>
  <path d="M1668.6 5.4C1664.8 5.4 1663 8 1663.4 10.4C1663.8 12.6 1665.2 13.4 1666.4 13.8L1666 16.4L1668.6 14.2C1672 14.4 1675.4 13.4 1675.6 10C1675.8 7 1672.6 5.4 1668.6 5.4Z" fill="#e2e2ee" stroke="#a8a8a8" stroke-width="0.9"/>
  <circle cx="1677.6" cy="5.5" r="8.5" fill="url(#gred)"/>
  <text x="1677.4" y="10" font-family="'Liberation Mono',monospace" font-size="12.5px" font-weight="bold" fill="#fff" text-anchor="middle">1</text>
</g>
</g>

</svg>
</body></html>
